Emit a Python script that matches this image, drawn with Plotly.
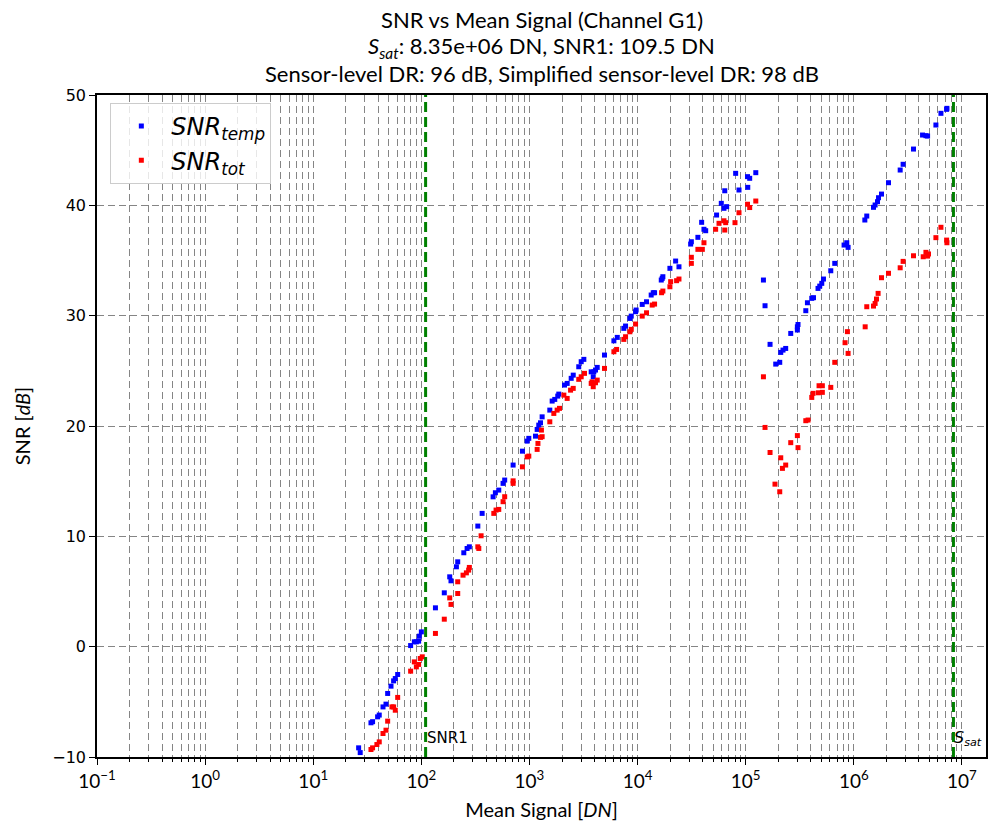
import numpy as np
import plotly.graph_objects as go

# ---------------- data ----------------
SSAT = 8.35e6
SNR1 = 109.5
DR_SENSOR = 96
DR_SIMPLE = 98
channel = "G1"

mean_temp = [26.3, 27.2, 34.2, 35.4, 39.4, 40.8, 44.2, 47.1, 48.8, 52.4, 55.4, 57.4, 60.4,
             79.6, 86.1, 89.9, 94.4, 95.7, 100, 135, 163, 183, 188, 211, 217, 247, 265, 278,
             333, 365, 461, 484, 520, 570, 590, 706, 861, 952, 986, 1137, 1178, 1219, 1265,
             1310, 1542, 1622, 1714, 1827, 1868, 2109, 2233, 2432, 2540, 2857, 3010, 3184,
             3724, 3937, 4080, 4234, 3889, 4943, 6039, 6490, 7460, 7740, 8490, 8740, 9580,
             9700, 11040, 12100, 13360, 13960, 14360, 16560, 17140, 16900, 19910, 22490,
             24150, 30970, 31430, 36130, 39140, 41120, 42660, 53800, 59470, 62950, 66680,
             64030, 80750, 86720, 104000, 108900, 104500, 124000,
             145900, 151000, 168000, 189600, 206500, 211000, 221400, 234400, 261000, 300600,
             300600, 304800, 359700, 372400, 408400, 423700, 466700, 484100, 505500, 524100,
             612400, 666700, 812800, 860800, 885500, 1265000, 1318000, 1521000, 1574000,
             1656000, 1693000, 1804000, 2094000, 2685000, 2858000, 3567000, 4324000, 4645000,
             4813000, 5745000, 6397000, 7217000, 7263000]
snr_temp = [-9.17, -9.6, -6.9, -6.8, -6.36, -6.2, -5.46, -5.21, -4.24, -3.58, -3.10, -2.89, -2.52,
            0.1, 0.44, 0.44, 0.50, 0.95, 1.34, 3.52, 4.88, 6.33, 5.97, 7.24, 7.69, 8.51, 8.9, 9.05,
            10.93, 12.08, 13.58, 13.95, 14.19, 14.8, 15.1, 16.46, 17.72, 18.63, 18.88, 19.08, 19.69,
            20.08, 20.29, 20.83, 21.44, 22.26, 22.41, 22.71, 22.89, 23.71, 23.86, 24.32, 24.61,
            25.37, 25.83, 26.04, 24.91, 24.91, 25.07, 25.31, 24.46, 26.43, 27.72, 28.03, 28.85,
            29.06, 29.75, 29.96, 30.36, 30.51, 31.02, 31.26, 31.87, 32.08, 32.08, 33.23, 33.53,
            33.38, 34.29, 34.95, 34.43, 36.49, 36.7, 37.1, 38.46, 37.83, 37.7, 39.12, 40.18, 39.73,
            39.88, 41.32, 42.9, 41.39, 42.6, 42.45, 41.63, 42.96,
            33.23, 30.9, 27.4, 25.61, 25.77, 26.67, 26.88, 27.03, 28.39, 28.7, 28.99, 29.2, 30.45,
            31.17, 31.57, 31.63, 32.47, 32.68, 32.93, 33.32, 34.07, 34.74, 36.4, 36.61, 36.19,
            38.67, 39.03, 39.82, 40.03, 40.33, 40.69, 41.02, 42.05, 43.2, 43.72, 45.1, 46.37,
            46.31, 46.28, 47.28, 48.34, 48.70, 48.79]

mean_tot = [34.2, 35.4, 38.8, 40.8, 44.2, 47.1, 48.8, 53.5, 55.4, 57.4, 60.4, 79.6, 86.1, 89.9,
            94.4, 97.7, 102, 135, 163, 183, 188, 217, 217, 243, 261, 274, 278, 333, 340, 357,
            468, 491, 520, 570, 590, 706, 706, 861, 952, 986, 1178, 1198, 1265, 1310, 1290, 1542,
            1680, 1803, 1896, 2080, 2233, 2400, 2540, 2857, 3010, 3228, 3724, 3889, 4080, 4234,
            3793, 4943, 6039, 6397, 7460, 7740, 8490, 8740, 9580, 11040, 12100, 13650, 14360,
            16670, 17140, 19910, 20230, 22960, 24150, 31430, 31430, 36130, 39720, 41120, 52730,
            56660, 62950, 65300, 64030, 79620, 86720, 104000, 108900, 124000,
            145900, 151000, 168000, 186600, 206500, 211000, 218700, 234400, 261000, 300600,
            304800, 359700, 377600, 408400, 419800, 470000, 511700, 477000, 511700, 612400,
            666700, 829800, 885500, 873000, 1274000, 1318000, 1521000, 1574000, 1622000,
            1678000, 1804000, 2094000, 2685000, 2858000, 3567000, 4385000, 4645000, 4813000,
            4911000, 5745000, 6397000, 7217000, 7263000]
snr_tot = [-9.32, -9.17, -8.87, -8.63, -7.87, -7.57, -6.75, -5.46, -5.46, -5.76, -4.6, -2.22,
           -1.38, -1.83, -1.61, -1.07, -0.92, 1.20, 2.49, 4.42, 3.83, 4.82, 5.88, 6.48, 6.69,
           6.94, 7.18, 9.05, 8.9, 10.05, 12.08, 12.38, 12.44, 13.14, 13.59, 14.8, 15.03, 16.3,
           17.2, 17.27, 17.88, 18.42, 18.97, 19.03, 19.63, 20.38, 21.14, 21.44, 21.6, 22.8, 22.5,
           23.25, 23.41, 24.23, 24.46, 24.77, 23.86, 23.56, 23.92, 24.16, 24.0, 25.22, 26.73,
           26.94, 27.85, 28.09, 28.54, 28.76, 29.24, 29.96, 30.26, 30.96, 31.05, 32.08, 32.23,
           32.62, 33.08, 33.17, 33.32, 35.29, 34.74, 36.01, 36.01, 36.61, 37.83, 38.37, 38.6,
           38.43, 37.76, 38.43, 39.33, 40.1, 39.8, 40.39,
           24.46, 19.87, 17.6, 14.73, 14.04, 17.12, 16.16, 16.46, 18.49, 19.13, 18.04, 20.48,
           20.54, 22.59, 22.96, 23.01, 23.05, 23.65, 23.65, 23.5, 25.77, 27.55, 26.58, 28.55,
           28.99, 30.81, 30.87, 31.11, 31.51, 32.02, 33.44, 33.84, 34.34, 34.92, 35.43, 35.34,
           35.74, 35.4, 35.59, 37.07, 38.01, 36.85, 36.61]

decades = list(range(-1, 8))
xtick_labels = ["10<sup>" + str(d).replace("-", "\u2212") + "</sup>" for d in decades]

# ---------------- figure ----------------
TITLE_FONT = "Lato"
fig = go.Figure()

fig.add_trace(go.Scatter(
    x=mean_temp, y=snr_temp, mode="markers",
    marker=dict(symbol="square", size=5, color="#0000ff", line=dict(width=0)),
    name="<i>SNR</i><sub><i>temp</i></sub>"))
fig.add_trace(go.Scatter(
    x=mean_tot, y=snr_tot, mode="markers",
    marker=dict(symbol="square", size=5, color="#ff0000", line=dict(width=0)),
    name="<i>SNR</i><sub><i>tot</i></sub>"))

for xv in (SNR1, SSAT):
    fig.add_trace(go.Scatter(
        x=[xv, xv], y=[-10, 50], mode="lines", showlegend=False, hoverinfo="skip",
        line=dict(color="#008000", width=3, dash="10px,5px")))

grid_color = "#858585"
grid_dash = "7px,4px"

fig.update_xaxes(
    type="log", range=[-1, np.log10(2 * SSAT)],
    tickmode="array", tickvals=[10.0 ** d for d in decades], ticktext=xtick_labels,
    ticks="outside", ticklen=6, tickcolor="black", tickwidth=1,
    tickfont=dict(family=TITLE_FONT, size=19, color="black"),
    showgrid=True, gridcolor=grid_color, griddash=grid_dash, gridwidth=1,
    minor=dict(tickmode="array",
               tickvals=[m * 10.0 ** d for d in decades for m in range(2, 10)],
               ticks="outside", ticklen=3, tickcolor="black", tickwidth=1,
               showgrid=True, gridcolor=grid_color, griddash=grid_dash, gridwidth=1),
    showline=True, linecolor="black", linewidth=1.5, mirror=True,
    zeroline=False,
    title=dict(text="Mean Signal [<i>DN</i>]", font=dict(family=TITLE_FONT, size=20, color="black"),
               standoff=12),
)
fig.update_yaxes(
    range=[-10, 50], tickmode="array", tickvals=[-10, 0, 10, 20, 30, 40, 50],
    ticks="outside", ticklen=6, tickcolor="black", tickwidth=1,
    tickfont=dict(family="DejaVu Sans", size=16, color="black"),
    showgrid=True, gridcolor=grid_color, griddash=grid_dash, gridwidth=1,
    showline=True, linecolor="black", linewidth=1.5, mirror=True,
    zeroline=False,
    title=dict(text="SNR [<i>dB</i>]", font=dict(family=TITLE_FONT, size=20, color="black"),
               standoff=16),
)

# title lines
title_lines = [
    f"SNR vs Mean Signal (Channel {channel})",
    f"<i>S</i><sub><i>sat</i></sub>: {SSAT:.2e} DN, SNR1: {SNR1} DN",
    f"Sensor-level DR: {DR_SENSOR} dB, Simplified sensor-level DR: {DR_SIMPLE} dB",
]
for txt, yy in zip(title_lines, [1.114, 1.073, 1.032]):
    fig.add_annotation(text=txt, xref="paper", yref="paper", x=0.5, y=yy,
                       xanchor="center", yanchor="middle", showarrow=False,
                       font=dict(family=TITLE_FONT, size=22, color="black"))

# labels of vertical lines
fig.add_annotation(text="SNR1", x=np.log10(SNR1), y=-8.3, xref="x", yref="y",
                   xanchor="left", yanchor="middle", showarrow=False, xshift=-1,
                   font=dict(family="DejaVu Sans", size=15, color="black"))
fig.add_annotation(text="<i>S</i><sub><i>sat</i></sub>", x=np.log10(SSAT), y=-8.3, xref="x", yref="y",
                   xanchor="left", yanchor="middle", showarrow=False, xshift=-1,
                   font=dict(family="DejaVu Sans", size=16, color="black"))

fig.update_layout(
    width=988, height=829,
    margin=dict(l=97, r=2, t=95, b=72, autoexpand=False),
    paper_bgcolor="white", plot_bgcolor="white",
    showlegend=True,
    legend=dict(x=0.015, y=0.988, xanchor="left", yanchor="top",
                bgcolor="rgba(255,255,255,0.8)", bordercolor="#cccccc", borderwidth=1,
                font=dict(family="DejaVu Sans", size=24, color="black"),
                itemwidth=50, tracegroupgap=4),
)

fig.write_html("out.html")
